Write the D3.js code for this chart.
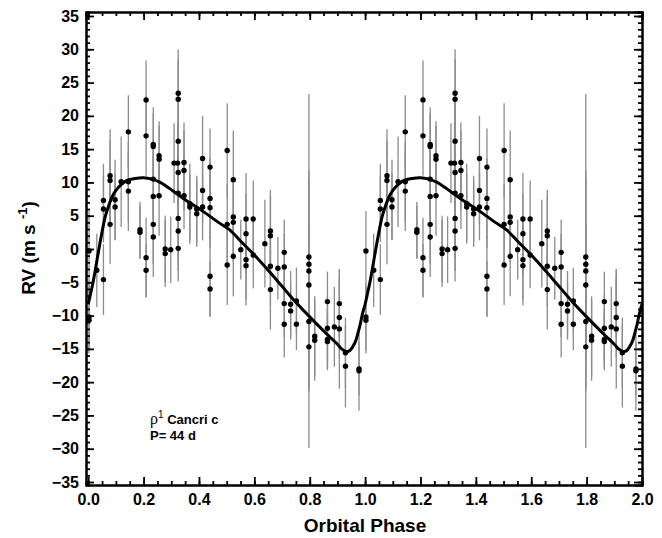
<!DOCTYPE html>
<html>
<head>
<meta charset="utf-8">
<script src="https://cdn.jsdelivr.net/npm/d3@7"></script>
<style>
    body { margin: 0; background: #fff; }
    text { font-family: "Liberation Sans", Arial, sans-serif; }
</style>
</head>
<body>
<svg id="chart"></svg>
<script>
// orbital phase of each measurement (one orbit, drawn twice)
const phase = [
    0.003, 0.003, 0.003, 0.031, 0.055, 0.055, 0.055, 0.079, 0.079, 0.079,
    0.097, 0.097, 0.119, 0.145, 0.145, 0.145, 0.187, 0.187, 0.209, 0.209,
    0.209, 0.209, 0.235, 0.235, 0.235, 0.235, 0.235, 0.235, 0.256, 0.256,
    0.256, 0.278, 0.278, 0.298, 0.31, 0.323, 0.325, 0.325, 0.325, 0.325,
    0.325, 0.325, 0.325, 0.325, 0.346, 0.346, 0.346, 0.367, 0.367, 0.392,
    0.392, 0.413, 0.413, 0.413, 0.44, 0.44, 0.44, 0.44, 0.44, 0.502,
    0.502, 0.502, 0.524, 0.524, 0.524, 0.524, 0.551, 0.57, 0.57, 0.57,
    0.57, 0.596, 0.596, 0.638, 0.658, 0.658, 0.658, 0.658, 0.685, 0.708,
    0.708, 0.708, 0.708, 0.731, 0.731, 0.752, 0.752, 0.797, 0.797, 0.797,
    0.797, 0.797, 0.797, 0.818, 0.818, 0.864, 0.864, 0.864, 0.864, 0.889,
    0.907, 0.907, 0.907, 0.929, 0.929, 0.978, 0.978
];
// radial velocity, m/s
const rv = [
    -0.3, -10.2, -10.7, -3.2, -4.6, 7.3, 6.0, 11.0, 10.3, 3.7,
    7.4, 6.3, 10.1, 17.6, 10.1, 8.7, 2.9, 2.5, 22.4, 17.0,
    -1.3, -3.2, 15.7, 15.4, 10.5, 7.9, 3.7, 1.8, 14.0, 13.5,
    8.0, 0.0, -0.7, -0.1, 12.9, 12.9, 23.4, 22.5, 16.2, 11.5,
    8.4, 4.6, 2.7, 0.1, 13.0, 11.8, 8.0, 6.8, 6.3, 6.0,
    5.3, 13.6, 8.8, 6.3, 12.3, 7.6, 6.2, -4.1, -6.0, 14.8,
    3.7, -2.4, 10.4, 4.8, 4.0, -1.1, -0.1, 4.5, 2.3, -1.6,
    -2.5, 4.5, -0.9, 0.8, 2.7, 2.0, -2.6, -6.1, -2.9, -0.5,
    -2.7, -8.2, -11.3, -8.3, -9.3, -7.8, -11.3, -1.2, -2.3, -3.3,
    -5.4, -10.9, -14.7, -13.1, -13.7, -7.9, -11.9, -13.6, -13.9, -11.7,
    -8.2, -10.3, -12.0, -15.6, -17.6, -18.0, -18.3
];
// 1-sigma errors, m/s
const err = [
    6, 5, 5, 5.5, 5.3, 5.5, 5, 7, 6, 6,
    6, 5, 6.8, 5.5, 6, 6, 4.2, 4, 5.9, 6,
    6, 4, 5.6, 5, 6, 6, 6, 6, 5.2, 5,
    6, 5, 5, 5, 6, 6, 6.6, 6, 6, 6,
    6, 6, 6, 5, 6, 6, 5, 6, 5, 5,
    5, 6.4, 5, 5, 5.8, 6, 6, 6, 4.2, 7.1,
    6, 6, 7.4, 6, 6, 6, 4.5, 6.9, 6, 6,
    6, 5.8, 5, 6.6, 6.2, 6, 6, 6, 4.7, 4.9,
    5, 5, 5, 5, 4.3, 5, 3.9, 13, 6, 26.6,
    16, 6, 6, 6, 6.1, 4.5, 5, 4.6, 4, 6,
    5.1, 6, 9, 5.3, 6.2, 4, 6
];

// orbit fit
const fitPhase = [0, 0.007, 0.016, 0.025, 0.034, 0.043, 0.052, 0.061, 0.073, 0.085,
    0.1, 0.12, 0.14, 0.17, 0.2, 0.23, 0.26, 0.29, 0.32, 0.35,
    0.38, 0.41, 0.44, 0.47, 0.51, 0.55, 0.6, 0.65, 0.7, 0.75,
    0.8, 0.85, 0.88, 0.9, 0.915, 0.93, 0.943, 0.955, 0.966, 0.975,
    0.983, 0.99, 1.0];
const fitRV = [-8.3, -7.0, -5.3, -3.3, -1.1, 1.0, 3.0, 4.8, 6.4, 7.7,
    8.8, 9.7, 10.3, 10.6, 10.7, 10.5, 10.0, 9.2, 8.3, 7.4,
    6.6, 5.8, 4.9, 4.0, 2.9, 1.2, -0.9, -3.2, -5.6, -8.0,
    -10.2, -12.3, -13.5, -14.3, -15.0, -15.4, -15.3, -14.7, -13.8, -12.5,
    -11.2, -9.8, -8.3];

const cycles = [0, 1];
const xMajor = [0, 0.2, 0.4, 0.6, 0.8, 1.0, 1.2, 1.4, 1.6, 1.8, 2.0];
const yMajor = [-35, -30, -25, -20, -15, -10, -5, 0, 5, 10, 15, 20, 25, 30, 35];

let width = 662, height = 538;
let mLeft = 86, mRight = 642, mTop = 12, mBottom = 485;

let svg = d3.select("#chart")
    .attr("width", width)
    .attr("height", height);

let x = d3.scaleLinear().domain([-0.008, 2.0]).range([mLeft, mRight]);
let y = d3.scaleLinear().domain([-35.45, 35.6]).range([mBottom, mTop]);

let xMinor = d3.range(0, 2.0001, 0.05);
let yMinor = d3.range(-35, 35.001, 1);

// both orbits of data
let points = [];
cycles.forEach(c => {
    phase.forEach((p, i) => points.push({ p: p + c, v: rv[i], e: err[i] }));
});

// error bars first, dots on top
svg.append("g")
    .selectAll("line")
    .data(points)
    .enter().append("line")
    .attr("x1", d => x(d.p)).attr("x2", d => x(d.p))
    .attr("y1", d => y(Math.min(d.v + d.e, 35.6)))
    .attr("y2", d => y(Math.max(d.v - d.e, -35.45)))
    .attr("stroke", "#8c8c8c")
    .attr("stroke-width", 1.3);

// fitted curve, continuous over two cycles
let fit = [];
cycles.forEach(c => {
    fitPhase.forEach((p, i) => {
        if (c > 0 && i == 0) return;
        fit.push([p + c, fitRV[i]]);
    });
});
svg.append("path")
    .datum(fit)
    .attr("fill", "none")
    .attr("stroke", "#000")
    .attr("stroke-width", 3)
    .attr("d", d3.line()
        .x(d => x(d[0]))
        .y(d => y(d[1]))
        .curve(d3.curveCatmullRom));

svg.append("g")
    .selectAll("circle")
    .data(points)
    .enter().append("circle")
    .attr("cx", d => x(d.p))
    .attr("cy", d => y(d.v))
    .attr("r", 2.7)
    .attr("fill", "#000");

// axes: ticks point inward on all four sides
function styleAxis(g) {
    g.selectAll("path").attr("stroke", "#000").attr("stroke-width", 2);
    g.selectAll("line").attr("stroke", "#000").attr("stroke-width", 1.8);
    g.selectAll("text")
        .attr("fill", "#000")
        .style("font-family", "'Liberation Sans', Arial, sans-serif")
        .style("font-weight", "bold")
        .style("font-size", "16px");
}

svg.append("g").attr("transform", `translate(0,${mBottom})`)
    .call(d3.axisBottom(x).tickValues(xMinor).tickSize(-4).tickFormat(""))
    .call(styleAxis);
svg.append("g").attr("transform", `translate(0,${mBottom})`)
    .call(d3.axisBottom(x).tickValues(xMajor).tickSizeInner(-8).tickSizeOuter(0)
        .tickPadding(9).tickFormat(d3.format(".1f")))
    .call(styleAxis);
svg.append("g").attr("transform", `translate(0,${mTop})`)
    .call(d3.axisTop(x).tickValues(xMinor).tickSize(-4).tickFormat(""))
    .call(styleAxis);
svg.append("g").attr("transform", `translate(0,${mTop})`)
    .call(d3.axisTop(x).tickValues(xMajor).tickSize(-8).tickFormat(""))
    .call(styleAxis);

svg.append("g").attr("transform", `translate(${mLeft},0)`)
    .call(d3.axisLeft(y).tickValues(yMinor).tickSize(-4).tickFormat(""))
    .call(styleAxis);
svg.append("g").attr("transform", `translate(${mLeft},0)`)
    .call(d3.axisLeft(y).tickValues(yMajor).tickSizeInner(-8).tickSizeOuter(0)
        .tickPadding(7).tickFormat(d3.format("d")))
    .call(styleAxis);
svg.append("g").attr("transform", `translate(${mRight},0)`)
    .call(d3.axisRight(y).tickValues(yMinor).tickSize(-4).tickFormat(""))
    .call(styleAxis);
svg.append("g").attr("transform", `translate(${mRight},0)`)
    .call(d3.axisRight(y).tickValues(yMajor).tickSize(-8).tickFormat(""))
    .call(styleAxis);

// axis titles
svg.append("text")
    .attr("x", 365).attr("y", 532)
    .attr("text-anchor", "middle")
    .style("font-weight", "bold")
    .style("font-size", "19px")
    .text("Orbital Phase");

let yTitle = svg.append("text")
    .attr("transform", "translate(35,248) rotate(-90)")
    .attr("text-anchor", "middle")
    .style("font-weight", "bold")
    .style("font-size", "19px");
yTitle.append("tspan").text("RV (m s ");
yTitle.append("tspan").attr("dy", -8).style("font-size", "13px").text("-1");
yTitle.append("tspan").attr("dy", 8).text(")");

// planet label
let lab = svg.append("text").attr("x", 150).attr("y", 424)
    .style("font-size", "13px").style("font-weight", "bold");
lab.append("tspan")
    .style("font-family", "'Liberation Serif', serif")
    .style("font-weight", "normal")
    .style("font-size", "16px")
    .text("\u03c1");
lab.append("tspan").attr("dy", -6)
    .style("font-weight", "normal").style("font-size", "10px")
    .text("1");
lab.append("tspan").attr("dy", 6).text(" Cancri c");

svg.append("text").attr("x", 150).attr("y", 440)
    .style("font-size", "13px").style("font-weight", "bold")
    .text("P= 44 d");
</script>
</body>
</html>
